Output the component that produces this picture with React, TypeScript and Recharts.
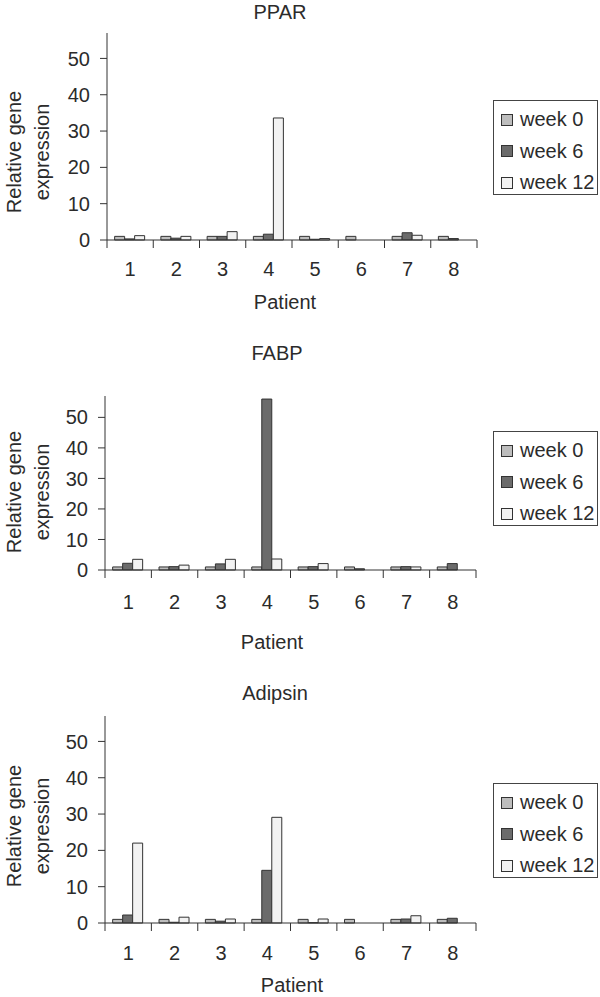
import React from 'react';
import { BarChart, Bar, XAxis, YAxis, Legend } from 'recharts';

const patients = ['1', '2', '3', '4', '5', '6', '7', '8'];
const weeks = ['week 0', 'week 6', 'week 12'];
const weekColors = ['#bdbdbd', '#6b6b6b', '#f2f2f2'];
const yTicks = [0, 10, 20, 30, 40, 50];

const pparWeek0 = [1, 1, 1, 1, 1, 1, 1, 1];
const pparWeek6 = [0.3, 0.5, 1.0, 1.6, 0.2, null, 2.0, 0.4];
const pparWeek12 = [1.2, 1.0, 2.3, 33.6, 0.4, null, 1.3, null];

const fabpWeek0 = [1, 1, 1, 1, 1, 1, 1, 1];
const fabpWeek6 = [2.2, 1.1, 2.0, 56, 1.1, 0.4, 1.1, 2.1];
const fabpWeek12 = [3.5, 1.6, 3.5, 3.6, 2.1, null, 1.0, null];

const adipsinWeek0 = [1, 1, 1, 1, 1, 1, 1, 1];
const adipsinWeek6 = [2.2, 0.2, 0.5, 14.5, 0.1, null, 1.1, 1.3];
const adipsinWeek12 = [22, 1.6, 1.1, 29.1, 1.1, null, 2.0, null];

const FONT = '"Liberation Sans", Arial, sans-serif';
const INK = '#2b2b2b';

// layout of the three stacked panels (page pixels)
const panels = [
  { title: 'PPAR', series: [pparWeek0, pparWeek6, pparWeek12], top: 0, height: 320, plotTop: 33, base: 240, left: 107, right: 477, titleX: 280, titleY: 12, ylabY: 152, patientX: 285, patientY: 302, tickDy: 29, legendTop: 100 },
  { title: 'FABP', series: [fabpWeek0, fabpWeek6, fabpWeek12], top: 320, height: 340, plotTop: 396, base: 570, left: 105, right: 476, titleX: 277, titleY: 353, ylabY: 492, patientX: 272, patientY: 642, tickDy: 32, legendTop: 431 },
  { title: 'Adipsin', series: [adipsinWeek0, adipsinWeek6, adipsinWeek12], top: 660, height: 337, plotTop: 716, base: 923, left: 105, right: 476, titleX: 275, titleY: 693, ylabY: 826, patientX: 292, patientY: 985, tickDy: 30, legendTop: 783 },
];

const PatientTick = (props: any) => {
  const { x, y, payload, index, band, count, dy } = props;
  const half = band / 2;
  return (
    <g>
      <line x1={x - half} y1={y} x2={x - half} y2={y + 8} stroke="#333" />
      {index === count - 1 && <line x1={x + half} y1={y} x2={x + half} y2={y + 8} stroke="#333" />}
      <text x={x} y={y + dy} textAnchor="middle" dominantBaseline="central" fontSize={20} fill={INK} fontFamily={FONT}>
        {payload.value}
      </text>
    </g>
  );
};

const YLabel = ({ cy }: { cy: number }) => (
  <g fontSize={20} fill={INK} fontFamily={FONT}>
    <text x={14} y={cy} transform={`rotate(-90 14 ${cy})`} textAnchor="middle" dominantBaseline="central">Relative gene</text>
    <text x={42} y={cy} transform={`rotate(-90 42 ${cy})`} textAnchor="middle" dominantBaseline="central">expression</text>
  </g>
);

const XLabel = ({ px, py }: { px: number; py: number }) => (
  <text x={px} y={py} textAnchor="middle" dominantBaseline="central" fontSize={20} fill={INK} fontFamily={FONT}>Patient</text>
);

const LegendBox = () => (
  <div style={{ width: 105, height: 95, boxSizing: 'border-box', border: '1px solid #444', paddingTop: 3, fontFamily: FONT, fontSize: 20, color: INK, background: '#fff' }}>
    {weeks.map((w, i) => (
      <div key={w} style={{ height: 31.5, display: 'flex', alignItems: 'center', paddingLeft: 7 }}>
        <span style={{ width: 12, height: 12, boxSizing: 'border-box', border: '1px solid #333', background: weekColors[i], marginRight: 7, display: 'inline-block' }} />
        <span>{w}</span>
      </div>
    ))}
  </div>
);

const Panel = ({ p }: { p: typeof panels[number] }) => {
  const rows = patients.map((name, i) => ({
    patient: name,
    w0: p.series[0][i],
    w6: p.series[1][i],
    w12: p.series[2][i],
  }));
  const band = (p.right - p.left) / patients.length;
  const xAxisHeight = p.top + p.height - p.base;
  return (
    <div style={{ position: 'absolute', left: 0, top: p.top, width: 600, height: p.height }}>
      <div style={{ position: 'absolute', left: p.titleX, top: p.titleY - p.top - 12, transform: 'translateX(-50%)', fontFamily: FONT, fontSize: 20, color: INK, lineHeight: '24px', whiteSpace: 'nowrap' }}>
        {p.title}
      </div>
      <BarChart
        width={600}
        height={p.height}
        data={rows}
        margin={{ top: p.plotTop - p.top, right: 600 - p.right, bottom: 0, left: 0 }}
        barCategoryGap="16.5%"
        barGap={0}
      >
        <XAxis
          dataKey="patient"
          height={xAxisHeight}
          interval={0}
          tickSize={0}
          tickMargin={0}
          axisLine={{ stroke: '#333' }}
          tick={<PatientTick band={band} count={patients.length} dy={p.tickDy} />}
          label={<XLabel px={p.patientX} py={p.patientY - p.top} />}
        />
        <YAxis
          width={p.left}
          domain={[0, 57]}
          ticks={yTicks}
          interval={0}
          tickSize={7}
          tickMargin={10}
          axisLine={{ stroke: '#333' }}
          tickLine={{ stroke: '#333' }}
          tick={{ fontSize: 20, fill: INK, fontFamily: FONT }}
          label={<YLabel cy={p.ylabY - p.top} />}
        />
        <Legend
          layout="vertical"
          align="center"
          verticalAlign="middle"
          wrapperStyle={{ left: 493, top: p.legendTop - p.top, width: 105 }}
          content={<LegendBox />}
        />
        <Bar dataKey="w0" name={weeks[0]} fill={weekColors[0]} stroke="#333" strokeWidth={1} isAnimationActive={false} />
        <Bar dataKey="w6" name={weeks[1]} fill={weekColors[1]} stroke="#333" strokeWidth={1} isAnimationActive={false} />
        <Bar dataKey="w12" name={weeks[2]} fill={weekColors[2]} stroke="#333" strokeWidth={1} isAnimationActive={false} />
      </BarChart>
    </div>
  );
};

export default function App() {
  return (
    <div style={{ position: 'absolute', left: 0, top: 0, width: 600, height: 997, background: '#fff' }}>
      {panels.map(p => <Panel key={p.title} p={p} />)}
    </div>
  );
}
